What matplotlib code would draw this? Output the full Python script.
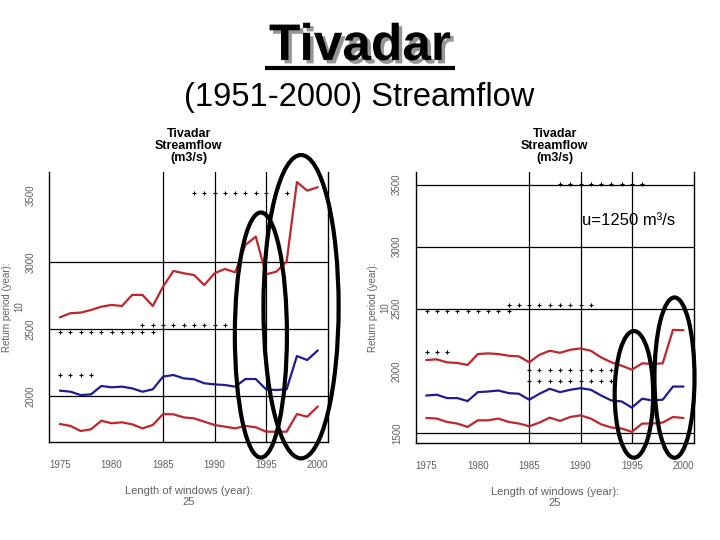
import matplotlib
matplotlib.use('Agg')
import matplotlib.pyplot as plt
import matplotlib.patheffects as pe
from matplotlib.patches import Ellipse
from matplotlib.lines import Line2D

plt.rcParams['font.family'] = ['Liberation Sans', 'DejaVu Sans']

years = list(range(1975, 2001))
xtick_years = [1975, 1980, 1985, 1990, 1995, 2000]

# left panel: 10-year return period, 25-year windows
left_upper = [2589, 2619, 2624, 2643, 2668, 2681, 2673, 2756, 2756, 2673, 2818, 2935, 2918,
              2905, 2830, 2918, 2950, 2925, 3130, 3192, 2910, 2930, 3005, 3600, 3536, 3561]
left_mid = [2040, 2032, 2007, 2012, 2075, 2065, 2070, 2057, 2032, 2050, 2145, 2157, 2132,
            2125, 2095, 2087, 2082, 2070, 2127, 2127, 2050, 2045, 2050, 2299, 2269, 2339]
left_lower = [1790, 1776, 1738, 1751, 1815, 1796, 1803, 1788, 1758, 1783, 1865, 1863, 1840,
              1833, 1808, 1783, 1771, 1758, 1776, 1766, 1733, 1733, 1733, 1865, 1845, 1920]
left_yticks = [2000, 2500, 3000, 3500]
left_hlines = [2000, 2500, 3000]
left_dot_levels = [3515, 2530, 2476, 2155]
left_dot_years = [[1988, 1989, 1990, 1991, 1992, 1993, 1994, 1995, 1997],
                  [1983, 1984, 1985, 1986, 1987, 1988, 1989, 1990, 1991],
                  [1975, 1976, 1977, 1978, 1979, 1980, 1981, 1982, 1983, 1984],
                  [1975, 1976, 1977, 1978]]

# right panel: u = 1250 m3/s
right_upper = [2087, 2092, 2068, 2063, 2047, 2135, 2140, 2135, 2121, 2116, 2068, 2129, 2161,
               2145, 2169, 2180, 2161, 2108, 2068, 2041, 2009, 2060, 2055, 2060, 2329, 2327]
right_mid = [1801, 1807, 1780, 1780, 1756, 1828, 1833, 1841, 1820, 1815, 1767, 1815, 1855,
             1828, 1847, 1860, 1847, 1801, 1761, 1753, 1703, 1775, 1761, 1767, 1873, 1873]
right_lower = [1620, 1615, 1588, 1575, 1548, 1601, 1601, 1615, 1588, 1575, 1553, 1583, 1623,
               1596, 1628, 1641, 1615, 1569, 1543, 1535, 1508, 1575, 1575, 1583, 1628, 1620]
right_yticks = [1500, 2000, 2500, 3000, 3500]
right_hlines = [1500, 2500, 3000, 3500]
right_dot_levels = [3503, 2527, 2479, 2148, 2007, 1921]
right_dot_years = [[1988, 1989, 1990, 1991, 1992, 1993, 1994, 1995, 1996],
                   [1983, 1984, 1985, 1986, 1987, 1988, 1989, 1990, 1991],
                   [1975, 1976, 1977, 1978, 1979, 1980, 1981, 1982, 1983],
                   [1975, 1976, 1977],
                   [1985, 1986, 1987, 1988, 1989, 1990, 1991, 1992, 1993],
                   [1985, 1986, 1987, 1988, 1989, 1990, 1991, 1992, 1993]]

RED = '#c0262c'
BLUE = '#1c1c96'
GRAY = '#606060'


def draw_panel(ax, upper, mid, lower, ylim, yticks, hlines, dot_levels, dot_years, ellipses):
    ax.set_xlim(1973.95, 2001.05)
    ax.set_ylim(*ylim)
    for h in hlines:
        ax.axhline(h, color='black', lw=0.9, zorder=1)
    for v in [1985, 1990, 1995]:
        ax.axvline(v, color='black', lw=0.9, zorder=1)
    for lvl, yrs in zip(dot_levels, dot_years):
        ax.plot(yrs, [lvl] * len(yrs), ls='none', marker='+', ms=2.5, mew=0.8,
                color='black', zorder=2)
    ax.plot(years, upper, color=RED, lw=1.6, zorder=3)
    ax.plot(years, mid, color=BLUE, lw=1.6, zorder=3)
    ax.plot(years, lower, color=RED, lw=1.6, zorder=3)

    ax.spines['top'].set_visible(False)
    for s in ['left', 'right', 'bottom']:
        ax.spines[s].set_linewidth(1.0)
    ax.set_xticks(xtick_years)
    ax.set_yticks(yticks)
    ax.tick_params(axis='x', length=0, pad=13, labelsize=7, labelcolor=GRAY)
    ax.tick_params(axis='y', length=0, pad=10, labelsize=7, labelcolor=GRAY)
    for lab in ax.get_yticklabels():
        lab.set_rotation(90)
        lab.set_va('center')

    ax.set_ylabel('Return period (year):\n10', fontsize=7, color=GRAY, linespacing=1.3)
    ax.yaxis.set_label_coords(-0.09, 0.5)
    ax.set_xlabel('Length of windows (year):\n25', fontsize=8, color=GRAY, linespacing=1.1)
    ax.xaxis.set_label_coords(0.5, -0.165)
    ax.text(0.5, 1.095, 'Tivadar\nStreamflow\n(m3/s)', transform=ax.transAxes,
            ha='center', va='center', fontsize=9, fontweight='bold', linespacing=1.0)

    for cx, cy, w, h in ellipses:
        ax.add_patch(Ellipse((cx, cy), w, h, fill=False, edgecolor='black', lw=3,
                             clip_on=False, zorder=5))


fig = plt.figure(figsize=(7.2, 5.4), dpi=100)
ax_l = fig.add_axes([0.0685, 0.182, 0.3875, 0.4994])
ax_r = fig.add_axes([0.5774, 0.180, 0.3865, 0.5013])

draw_panel(ax_l, left_upper, left_mid, left_lower, (1658, 3675), left_yticks, left_hlines,
           left_dot_levels, left_dot_years,
           [(1994.5, 2456, 5.06, 1833), (1998.4, 2668, 7.3, 2269)])
draw_panel(ax_r, right_upper, right_mid, right_lower, (1420, 3600), right_yticks, right_hlines,
           right_dot_levels, right_dot_years,
           [(1995.2, 1810, 3.75, 1020), (1999.15, 1945, 3.9, 1291)])

ax_r.text(0.598, 0.823, 'u=1250 m³/s', transform=ax_r.transAxes, ha='left', va='center',
          fontsize=12, zorder=4)

shadow = [pe.withSimplePatchShadow(offset=(2.5, -2.5), shadow_rgbFace='#8a8a8a', alpha=0.9)]
fig.text(0.5, 0.889, 'Tivadar', ha='center', va='baseline', fontsize=37, fontweight='bold',
         path_effects=shadow)
fig.add_artist(Line2D([0.368, 0.632], [0.874, 0.874], transform=fig.transFigure,
                      color='black', lw=3, solid_capstyle='butt', path_effects=shadow))
fig.text(0.499, 0.804, '(1951-2000) Streamflow', ha='center', va='baseline', fontsize=23.5)

fig.savefig('out.png', dpi=100)
